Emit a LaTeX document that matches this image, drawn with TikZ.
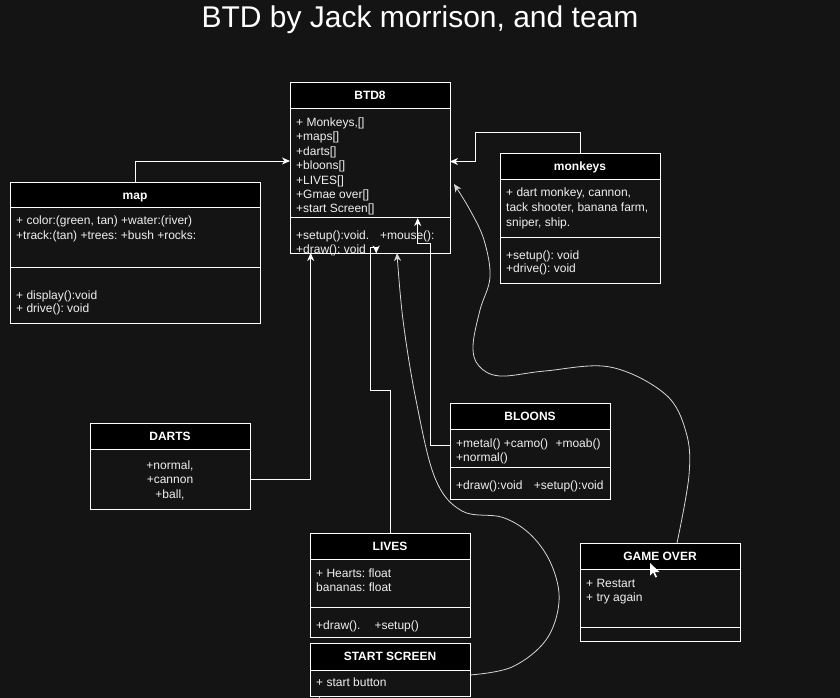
\documentclass[tikz,border=0pt]{standalone}
\usepackage{fontspec}
\setmainfont{Liberation Sans}
\usetikzlibrary{arrows.meta}
\definecolor{bg}{RGB}{20,20,20}
\definecolor{fg}{RGB}{240,240,240}
\definecolor{curvec}{RGB}{215,215,215}
\frenchspacing
\begin{document}
\begin{tikzpicture}[x=1pt,y=-1pt,
  box/.style={draw=white,line width=1pt,fill=bg,inner sep=0pt,outer sep=0pt,anchor=north west},
  hd/.style={draw=white,line width=1pt,fill=black},
  sep/.style={draw=white,line width=1pt},
  ttl/.style={anchor=base,inner sep=0pt,text=white,font=\bfseries\fontsize{12}{14}\selectfont},
  ln/.style={anchor=base west,inner sep=0pt,text=fg,font=\fontsize{12}{14}\selectfont},
  lnc/.style={anchor=base,inner sep=0pt,text=fg,font=\fontsize{12}{14}\selectfont},
  conn/.style={draw=white,line width=1pt,-{Stealth[length=8pt,width=7pt,inset=2.5pt]}},
  curv/.style={draw=curvec,line width=0.8pt,-{Stealth[length=8pt,width=7pt,inset=2.5pt]}}]
\useasboundingbox (0,0) rectangle (840,698);
\fill[bg] (0,0) rectangle (840,698);
% title
\node[anchor=base,inner sep=0pt,text=white,font=\fontsize{30}{34}\selectfont] (title) at (420,28) {BTD by Jack morrison, and team};

% BTD8
\node[box,minimum width=160pt,minimum height=170pt] (btd) at (290,83) {};
\draw[hd] (290,83) rectangle (450,109);
\draw[sep] (290,217) -- (450,217);
\node[ttl] (btdT) at (370,100) {BTD8};
\node[ln] (btd1) at (296,126.5) {+ Monkeys,[]};
\node[ln] (btd2) at (296,140.9) {+maps[]};
\node[ln] (btd3) at (296,155.3) {+darts[]};
\node[ln] (btd4) at (296,169.7) {+bloons[]};
\node[ln] (btd5) at (296,184.1) {+LIVES[]};
\node[ln] (btd6) at (296,198.5) {+Gmae over[]};
\node[ln] (btd7) at (296,212.9) {+start Screen[]};
\node[ln] (btd8) at (296,239) {+setup():void.\hspace{11pt}+mouse():};
\node[ln] (btd9) at (296,253) {+draw(): void};

% map
\node[box,minimum width=250pt,minimum height=141pt] (map) at (10,182) {};
\draw[hd] (10,182) rectangle (260,207);
\draw[sep] (10,267) -- (260,267);
\node[ttl] (mapT) at (135,199) {map};
\node[ln] (map1) at (16,224.7) {+ color:(green, tan) +water:(river)};
\node[ln] (map2) at (16,239) {+track:(tan) +trees: +bush +rocks:};
\node[ln] (map3) at (16,299) {+ display():void};
\node[ln] (map4) at (16,312.5) {+ drive(): void};

% monkeys
\node[box,minimum width=160pt,minimum height=130pt] (mon) at (500,153) {};
\draw[hd] (500,153) rectangle (660,179);
\draw[sep] (500,237) -- (660,237);
\node[ttl] (monT) at (580,170) {monkeys};
\node[ln] (mon1) at (506,196) {+ dart monkey, cannon,};
\node[ln] (mon2) at (506,211) {tack shooter, banana farm,};
\node[ln] (mon3) at (506,226) {sniper, ship.};
\node[ln] (mon4) at (506,259) {+setup(): void};
\node[ln] (mon5) at (506,272.5) {+drive(): void};

% DARTS
\node[box,minimum width=160pt,minimum height=86pt] (dar) at (90,423) {};
\draw[hd] (90,423) rectangle (250,449);
\node[ttl] (darT) at (170,440) {DARTS};
\node[lnc] (dar1) at (170,469) {+normal,};
\node[lnc] (dar2) at (170,483.5) {+cannon};
\node[lnc] (dar3) at (170,498) {+ball,};

% BLOONS
\node[box,minimum width=160pt,minimum height=96pt] (blo) at (450,403) {};
\draw[hd] (450,403) rectangle (610,429);
\draw[sep] (450,467) -- (610,467);
\node[ttl] (bloT) at (530,420) {BLOONS};
\node[ln] (blo1) at (456,447) {+metal() +camo()\hspace{4pt} +moab()};
\node[ln] (blo2) at (456,461) {+normal()};
\node[ln] (blo3) at (456,489) {+draw():void\hspace{8pt} +setup():void};

% LIVES
\node[box,minimum width=160pt,minimum height=104pt] (liv) at (310,533) {};
\draw[hd] (310,533) rectangle (470,559);
\draw[sep] (310,607) -- (470,607);
\node[ttl] (livT) at (390,550) {LIVES};
\node[ln] (liv1) at (316,577) {+ Hearts: float};
\node[ln] (liv2) at (316,591) {bananas: float};
\node[ln] (liv3) at (316,629) {+draw().\hspace{14pt}+setup()};

% START SCREEN
\node[box,minimum width=160pt,minimum height=53pt] (sts) at (310,643) {};
\draw[hd] (310,643) rectangle (470,670);
\node[ttl] (stsT) at (390,660.5) {START SCREEN};
\node[ln] (sts1) at (316,686.7) {+ start button};
\node[ln] (sts2) at (316,703) {+};

% GAME OVER
\node[box,minimum width=160pt,minimum height=98pt] (gmo) at (580,543) {};
\draw[hd] (580,543) rectangle (740,569);
\draw[sep] (580,627) -- (740,627);
\node[ttl] (gmoT) at (660,560) {GAME OVER};
\node[ln] (gmo1) at (586,587) {+ Restart};
\node[ln] (gmo2) at (586,601) {+ try again};

% connector end points
\coordinate (mapOut) at (135,182);
\coordinate (btdInL) at (290,161);
\coordinate (monOut) at (580.7,153);
\coordinate (btdInR) at (450,161.5);
\coordinate (darOut) at (250,479);
\coordinate (btdInB1) at (310.7,253);
\coordinate (bloOut) at (450,445.5);
\coordinate (btdInS) at (417.7,218);
\coordinate (livOut) at (390.7,533);
\coordinate (btdInB2) at (376.2,253.5);
\coordinate (stsOut) at (470,675);
\coordinate (btdInB3) at (397,253);
\coordinate (gmoOut) at (677,543);
\coordinate (btdInR2) at (454,184);

% orthogonal connectors
\draw[conn] (mapOut) -- (135,161) -- (btdInL);
\draw[conn] (monOut) -- (580.7,133) -- (475.7,133) -- (475.7,161.5) -- (btdInR);
\draw[conn] (darOut) -- (310.7,479) -- (btdInB1);
\draw[conn] (bloOut) -- (430.7,445.5) -- (430.7,243) -- (417.7,243) -- (btdInS);
\draw[conn] (livOut) -- (390.7,390) -- (370.7,390) -- (370.7,247.5) -- (376.2,247.5) -- (btdInB2);

% curved connectors
\draw[curv] plot[smooth,tension=0.6] coordinates {(stsOut) (512,667) (546,640) (559,602) (552,566) (532,536) (503,517.5) (462,511) (435,478) (416,400) (403,320) (btdInB3)};
\draw[curv] plot[smooth,tension=0.6] coordinates {(gmoOut) (689,475) (686,432) (665,394) (610,367) (545,371) (500,376) (479,366) (473,346) (480,310) (490,277) (484,240) (470,210) (btdInR2)};

% mouse cursor
\fill[white] (650,563) -- (650,575.5) -- (653.2,572.6) -- (655.5,577.5) -- (657,576.8) -- (654.8,572) -- (659.5,572) -- cycle;
\end{tikzpicture}
\end{document}
